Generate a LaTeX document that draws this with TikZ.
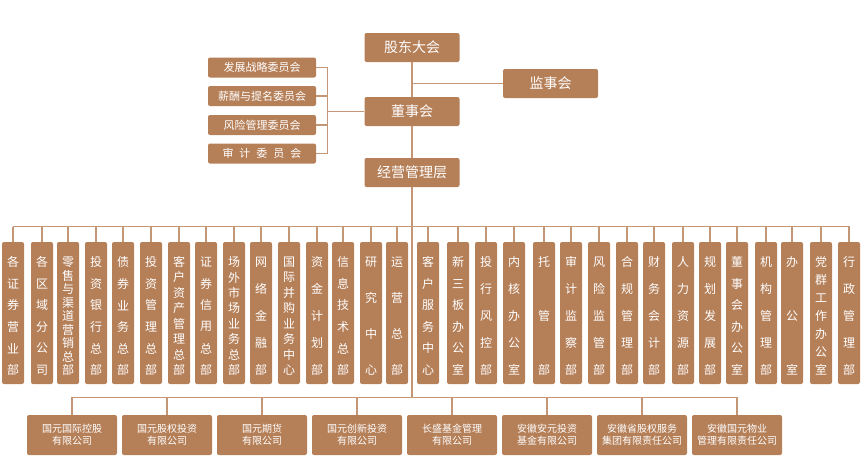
\documentclass[tikz,border=0pt]{standalone}
\usepackage{fontspec}
\setmainfont{Noto Sans CJK SC}
\usetikzlibrary{positioning,calc}
\definecolor{orgbrown}{RGB}{181,127,88}
\definecolor{orgline}{RGB}{196,150,118}
\tikzset{
	unit/.style={
		rectangle,
		rounded corners=2pt,
		fill=orgbrown,
		text=white,
		inner sep=0pt,
	},
	topunit/.style={
		unit,
		minimum width=95pt,
		minimum height=29pt,
		font=\fontsize{14}{14}\selectfont,
	},
	committee/.style={
		unit,
		minimum width=108pt,
		minimum height=20pt,
		font=\fontsize{11}{11}\selectfont,
	},
	dept/.style={
		unit,
		minimum width=22pt,
		minimum height=142pt,
	},
	deptchar/.style={
		inner sep=0pt,
		text=white,
		font=\fontsize{12}{12}\selectfont,
	},
	subco/.style={
		unit,
		minimum width=90pt,
		minimum height=40pt,
		align=center,
		font=\fontsize{10}{12}\selectfont,
	},
	link/.style={
		draw=orgline,
		line width=1.2pt,
	},
}
\begin{document}
\begin{tikzpicture}[x=1pt,y=-1pt]
\useasboundingbox (0,0) rectangle (864,463);

\node[topunit] (gd) at (412,47.5) {股东大会};
\node[topunit] (ds) at (412,111.5) {董事会};
\node[topunit] (gm) at (412,172.5) {经营管理层};
\node[topunit] (js) at (550.5,83.5) {监事会};

\node[committee] (c1) at (262,67.5) {发展战略委员会};
\node[committee] (c2) at (262,96) {薪酬与提名委员会};
\node[committee] (c3) at (262,125) {风险管理委员会};
\node[committee] (c4) at (262,153.5) {审\hspace{6pt}计\hspace{6pt}委\hspace{6pt}员\hspace{6pt}会};

\draw[link] (gd.south) -- (ds.north);
\draw[link] (ds.south) -- (gm.north);
\draw[link] (js.west) -- (js.west -| gd.south);
\draw[link] (c1.east) -- ++(11,0) |- (c4.east);
\draw[link] (c2.east) -- ++(11,0);
\draw[link] (c3.east) -- ++(11,0);
\draw[link] (ds.west) -- ++(-37,0);

% departments
\foreach \x/\t/\n [count=\k] in {
  13/{各,证,券,营,业,部}/6, 42/{各,区,域,分,公,司}/6,
  68/{零,售,与,渠,道,营,销,总,部}/9, 96/{投,资,银,行,总,部}/6,
  123/{债,券,业,务,总,部}/6, 151/{投,资,管,理,总,部}/6,
  179/{客,户,资,产,管,理,总,部}/8, 206/{证,券,信,用,总,部}/6,
  234/{场,外,市,场,业,务,总,部}/8, 261/{网,络,金,融,部}/5,
  289/{国,际,并,购,业,务,中,心}/8, 317/{资,金,计,划,部}/5,
  343/{信,息,技,术,总,部}/6, 371/{研,究,中,心}/4,
  397/{运,营,总,部}/4, 428/{客,户,服,务,中,心}/6,
  458/{新,三,板,办,公,室}/6, 486/{投,行,风,控,部}/5,
  514/{内,核,办,公,室}/5, 544/{托,管,部}/3,
  571/{审,计,监,察,部}/5, 599/{风,险,监,管,部}/5,
  627/{合,规,管,理,部}/5, 654/{财,务,会,计,部}/5,
  683/{人,力,资,源,部}/5, 710/{规,划,发,展,部}/5,
  737/{董,事,会,办,公,室}/6, 766/{机,构,管,理,部}/5,
  792/{办,公,室}/3, 821/{党,群,工,作,办,公,室}/7,
  849/{行,政,管,理,部}/5}
{
  \node[dept] (b\k) at (\x,313) {};
  \foreach \c [count=\i] in \t
    \node[deptchar] (t\k-\i) at (\x,{262+(\i-1)*108/(\n-1)}) {\c};
  \draw[link] (b\k.north) -- ++(0,-15);
}
\draw[link] (b1.north) ++(0,-15) -| (b31.north);

% subsidiaries
\node[subco] (s1) at (72,435) {国元国际控股\\有限公司};
\node[subco] (s2) at (167,435) {国元股权投资\\有限公司};
\node[subco] (s3) at (262,435) {国元期货\\有限公司};
\node[subco] (s4) at (357,435) {国元创新投资\\有限公司};
\node[subco] (s5) at (452,435) {长盛基金管理\\有限公司};
\node[subco] (s6) at (547,435) {安徽安元投资\\基金有限公司};
\node[subco] (s7) at (642,435) {安徽省股权服务\\集团有限责任公司};
\node[subco] (s8) at (737,435) {安徽国元物业\\管理有限责任公司};

\draw[link] (gm.south) -- ($(gm.south |- s1.north)+(0,-17)$);
\draw[link] (s1.north) -- ++(0,-17) -| (s8.north);
\foreach \k in {2,...,7}
  \draw[link] (s\k.north) -- ++(0,-17);

\end{tikzpicture}
\end{document}
